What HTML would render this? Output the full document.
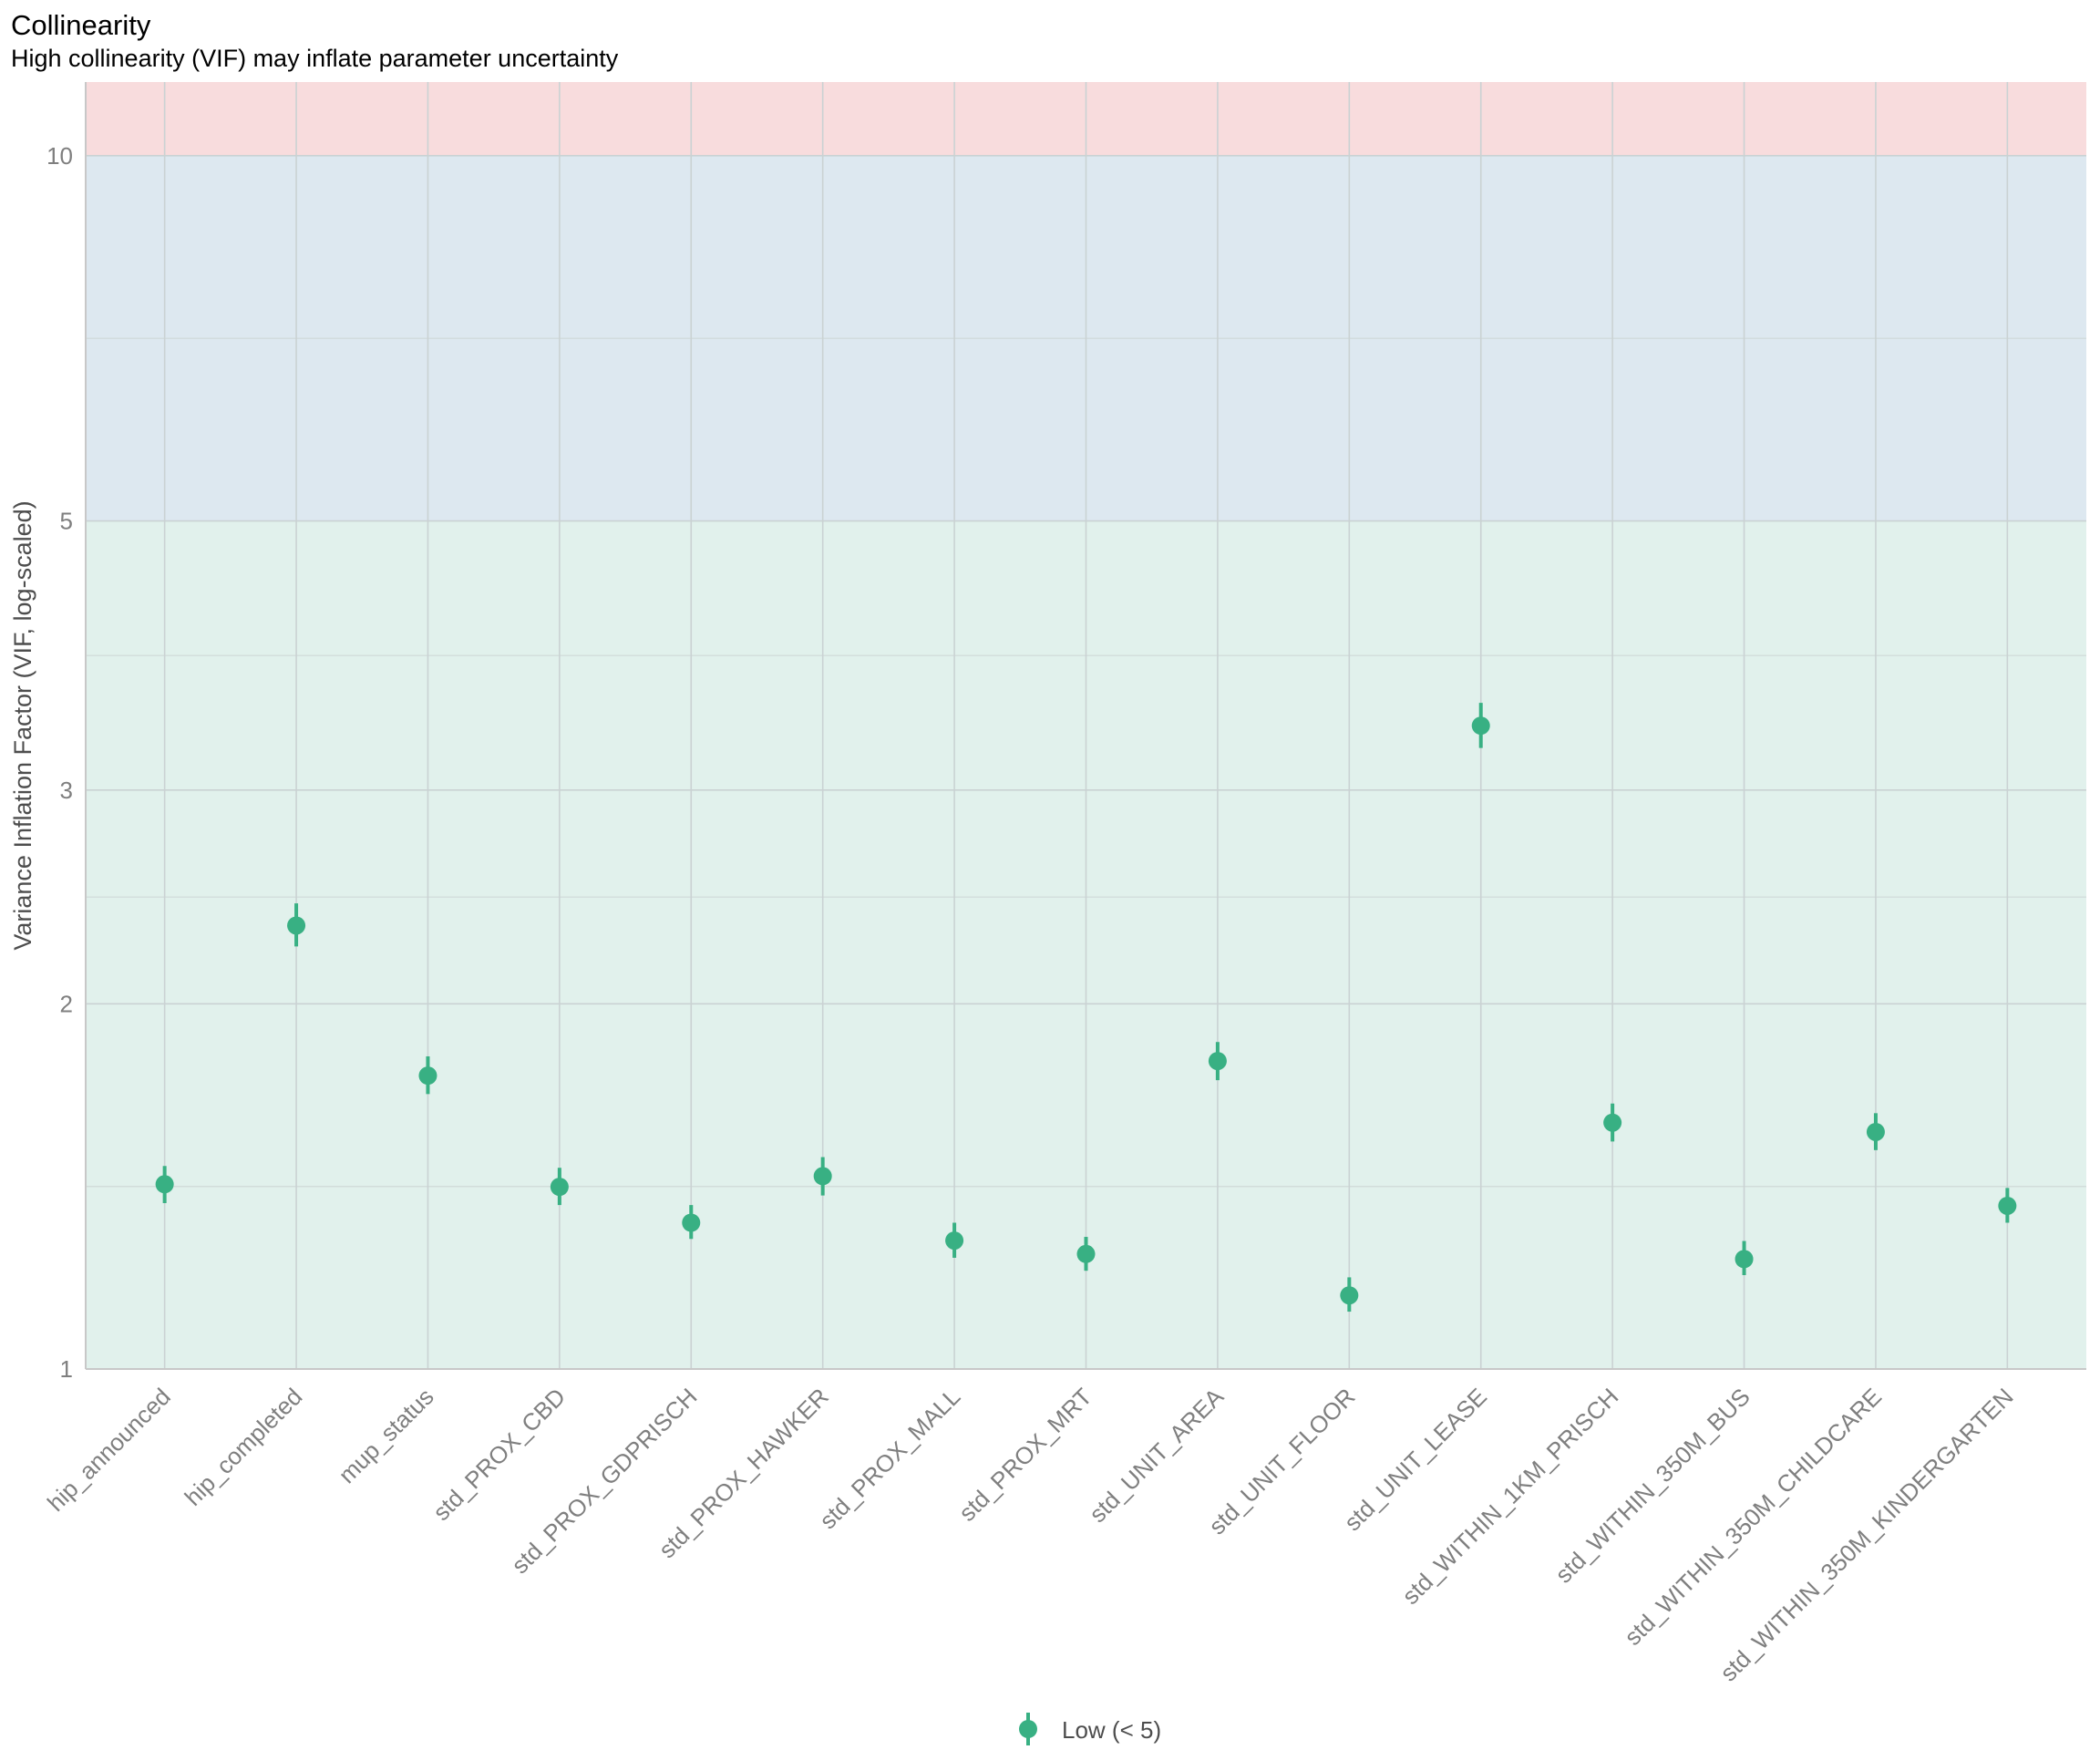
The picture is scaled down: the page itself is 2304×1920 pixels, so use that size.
<!DOCTYPE html>
<html><head><meta charset="utf-8"><style>
html,body{margin:0;padding:0;background:#fff;}
svg{display:block;font-family:"Liberation Sans",Arial,sans-serif;}
</style></head><body>
<svg id="chart" width="2304" height="1920" viewBox="0 0 2304 1920" xmlns="http://www.w3.org/2000/svg">
<text x="12" y="38" font-size="31" fill="#000">Collinearity</text>
<text x="12" y="73" font-size="27" fill="#000">High collinearity (VIF) may inflate parameter uncertainty</text>
<g id="bands"></g>
<g id="grid"></g>
<g id="yticks"></g>
<g id="xticks"></g>
<g id="marks"></g>
<text transform="translate(34,796) rotate(-90)" text-anchor="middle" font-size="27" fill="#4d4d4d">Variance Inflation Factor (VIF, log-scaled)</text>
<g>
<line x1="1128" y1="1879" x2="1128" y2="1915" stroke="#38b083" stroke-width="4"/>
<circle cx="1128" cy="1897" r="10" fill="#38b083"/>
<text x="1165" y="1907" font-size="26" fill="#4d4d4d">Low (&lt; 5)</text>
</g>
</svg>
<script>
const categories = ["hip_announced","hip_completed","mup_status","std_PROX_CBD","std_PROX_GDPRISCH","std_PROX_HAWKER","std_PROX_MALL","std_PROX_MRT","std_UNIT_AREA","std_UNIT_FLOOR","std_UNIT_LEASE","std_WITHIN_1KM_PRISCH","std_WITHIN_350M_BUS","std_WITHIN_350M_CHILDCARE","std_WITHIN_350M_KINDERGARTEN"];
const vif = [1.42,2.32,1.745,1.413,1.32,1.442,1.276,1.244,1.794,1.15,3.39,1.596,1.232,1.568,1.363];
const ciLow = [1.37,2.23,1.685,1.365,1.28,1.39,1.235,1.205,1.73,1.115,3.25,1.54,1.195,1.515,1.32];
const ciHigh = [1.47,2.42,1.81,1.465,1.365,1.495,1.32,1.285,1.86,1.19,3.54,1.655,1.275,1.625,1.41];
const yTicks = [1,2,3,5,10];
const yMinor = [1.414,2.449,3.873,7.071];

const NS="http://www.w3.org/2000/svg";
const L=94,R=2289,T=90,B=1502;
const yMin=1, yMax=11.5;
function y(v){return B-(Math.log10(v)-Math.log10(yMin))/(Math.log10(yMax)-Math.log10(yMin))*(B-T);}
const step=(R-L)/(categories.length-1+1.2);
function x(i){return L+step*(0.6+i);}
function el(tag,attrs,parent){const e=document.createElementNS(NS,tag);for(const k in attrs)e.setAttribute(k,attrs[k]);parent.appendChild(e);return e;}

const bands=document.getElementById('bands');
let b1=el('rect',{x:L,y:y(5),width:R-L,height:B-y(5),fill:'#e1f1ec'},bands);


let b2=el('rect',{x:L,y:y(10),width:R-L,height:y(5)-y(10),fill:'#dde8f0'},bands);


let b3=el('rect',{x:L,y:T,width:R-L,height:y(10)-T,fill:'#f8dcdd'},bands);



const grid=document.getElementById('grid');
yMinor.forEach(v=>{let g=el('line',{x1:L,x2:R,y1:y(v),y2:y(v),stroke:'#cfd8d8','stroke-width':1.2},grid);

});
yTicks.forEach(v=>{let g=el('line',{x1:L,x2:R,y1:y(v),y2:y(v),stroke:'#cad2d3','stroke-width':1.6},grid);

});
categories.forEach((c,i)=>{let g=el('line',{x1:x(i),x2:x(i),y1:T,y2:B,stroke:'#cad2d3','stroke-width':1.6},grid);

});
let ax=el('line',{x1:L,x2:R,y1:B,y2:B,stroke:'#c8c8c8','stroke-width':2},grid);


let ay=el('line',{x1:L,x2:L,y1:T,y2:B,stroke:'#c8c8c8','stroke-width':2},grid);



const yt=document.getElementById('yticks');
yTicks.forEach(v=>{let t=el('text',{x:L-14,y:y(v)+9,'text-anchor':'end','font-size':26,fill:'#7f7f7f'},yt);t.textContent=v;

});

const xt=document.getElementById('xticks');
categories.forEach((c,i)=>{let t=el('text',{transform:`translate(${x(i)+8},${B+32}) rotate(-45)`,'text-anchor':'end','font-size':26,fill:'#7f7f7f'},xt);t.textContent=c;

});

const marks=document.getElementById('marks');
categories.forEach((c,i)=>{
 let g=el('g',{},marks);
 
 
 el('line',{x1:x(i),x2:x(i),y1:y(ciLow[i]),y2:y(ciHigh[i]),stroke:'#38b083','stroke-width':4},g);
 el('circle',{cx:x(i),cy:y(vif[i]),r:10,fill:'#38b083'},g);
});
</script>
</body></html>
